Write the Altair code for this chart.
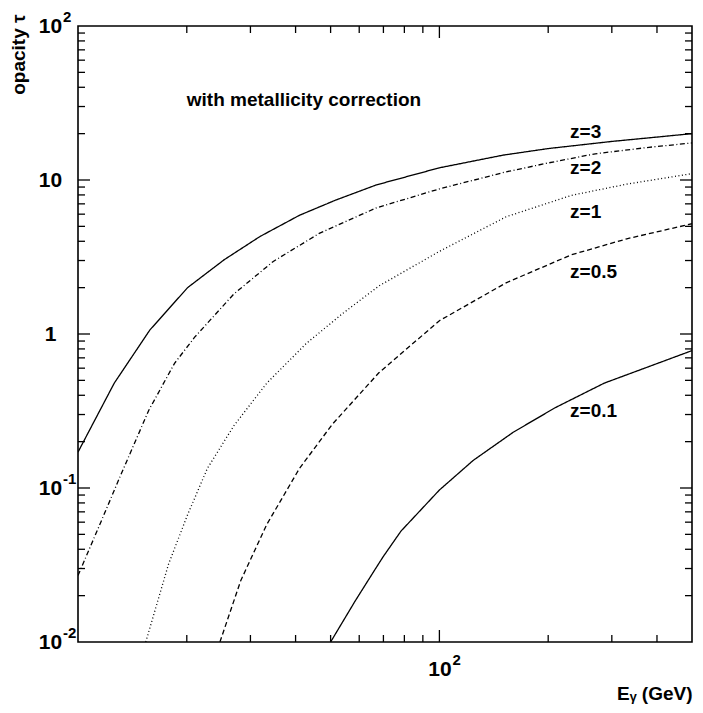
import altair as alt
import pandas as pd

# ---------------- data ----------------
series_names = ["z=3", "z=2", "z=1", "z=0.5", "z=0.1"]

E_z3 = [10, 12.6, 15.8, 20.1, 25.4, 31.9, 41, 51.6, 67, 100, 150, 200, 300, 400, 500]
tau_z3 = [0.171, 0.48, 1.06, 2.0, 3.04, 4.3, 5.9, 7.4, 9.3, 12.0, 14.5, 16.0, 17.8, 19.0, 20.0]

E_z2 = [10, 11.7, 13.0, 15.7, 18.5, 21, 27, 34.7, 46.5, 67, 100, 153, 200, 270, 380, 500]
tau_z2 = [0.027, 0.064, 0.115, 0.32, 0.645, 0.95, 1.82, 2.96, 4.5, 6.6, 8.75, 11.3, 12.9, 14.8, 16.3, 17.4]

E_z1 = [15.4, 17.8, 20.1, 22.8, 27, 33.3, 42.8, 53.8, 68, 100, 153, 232, 330, 500]
tau_z1 = [0.01, 0.032, 0.067, 0.134, 0.254, 0.48, 0.867, 1.35, 2.05, 3.44, 5.77, 7.95, 9.4, 11.0]

E_z05 = [24.7, 28.2, 33.3, 41, 50.6, 68, 100, 153, 232, 330, 500]
tau_z05 = [0.01, 0.025, 0.058, 0.134, 0.26, 0.56, 1.22, 2.15, 3.27, 4.15, 5.2]

E_z01 = [50, 58.5, 66, 70, 78.3, 100, 124, 160, 209, 286, 500]
tau_z01 = [0.01, 0.0185, 0.029, 0.036, 0.0525, 0.097, 0.151, 0.23, 0.332, 0.48, 0.78]

# annotation texts and their anchors in data space
label_text = ["with metallicity correction", "z=3", "z=2", "z=1", "z=0.5", "z=0.1"]
label_E = [20, 230, 230, 230, 230, 230]
label_tau = [33, 20.5, 12.0, 6.2, 2.52, 0.315]

# axis tick values and label exponents
x_major = [100]
x_minor = [20, 30, 40, 50, 60, 70, 80, 90, 200, 300, 400]
y_major = [0.1, 1, 10]
y_minor = [m * d for d in [0.01, 0.1, 1, 10] for m in [2, 3, 4, 5, 6, 7, 8, 9]]
y_label_values = [0.01, 0.1, 1, 10, 100]
y_exp_values = [100, 0.1, 0.01]
y_exp_text = ["2", "-1", "-2"]
x_exp_values = [100]
x_exp_text = ["2"]

# ---------------- build tables ----------------
rows = []
for name, E, T in zip(series_names,
                      [E_z3, E_z2, E_z1, E_z05, E_z01],
                      [tau_z3, tau_z2, tau_z1, tau_z05, tau_z01]):
    for i, (e, t) in enumerate(zip(E, T)):
        rows.append({"z": name, "E": e, "tau": t, "order": i})
df = pd.DataFrame(rows)
labels_df = pd.DataFrame({"text": label_text, "E": label_E, "tau": label_tau})
yexp_df = pd.DataFrame({"v": y_exp_values, "t": y_exp_text})
xexp_df = pd.DataFrame({"v": x_exp_values, "t": x_exp_text})

W, H = 614, 616
FONT = "Liberation Sans"
MAJ, MIN = 12, 7

xscale = alt.Scale(type="log", domain=[10, 500], nice=False)
yscale = alt.Scale(type="log", domain=[0.01, 100], nice=False)

x_axis = alt.Axis(values=x_major, labelExpr="'10'", ticks=False, tickSize=0,
                  domain=False, grid=False, labelFont=FONT, labelFontSize=21,
                  labelFontWeight="bold", labelPadding=16, labelColor="black",
                  title="Eᵧ (GeV)", titleFont=FONT, titleFontSize=19,
                  titleFontWeight="bold", titleColor="black", titleX=W, titleY=57,
                  titleAlign="right", titleBaseline="alphabetic")
y_axis = alt.Axis(values=y_label_values,
                  labelExpr="datum.value == 1 ? '1' : '10'", ticks=False,
                  tickSize=0, domain=False, grid=False, labelFont=FONT,
                  labelFontSize=21, labelFontWeight="bold", labelAlign="center",
                  labelBaseline="middle", labelPadding=28, labelColor="black",
                  title="opacity τ", titleFont=FONT, titleFontSize=19,
                  titleFontWeight="bold", titleColor="black", titleAngle=270,
                  titleAlign="right", titleBaseline="middle", titleX=-60, titleY=-12)

lines = alt.Chart(df).mark_line(color="black", strokeWidth=1.3, clip=True).encode(
    x=alt.X("E:Q", scale=xscale, axis=x_axis),
    y=alt.Y("tau:Q", scale=yscale, axis=y_axis),
    strokeDash=alt.StrokeDash(
        "z:N",
        scale=alt.Scale(domain=series_names,
                        range=[[1, 0], [5, 2.5, 1, 2.5], [1, 2.5], [5, 3], [1, 0]]),
        legend=None),
    detail="z:N",
    order="order:Q",
)

texts = alt.Chart(labels_df).mark_text(
    align="left", baseline="middle", font=FONT, fontSize=19, fontWeight="bold",
    color="black"
).encode(
    x=alt.X("E:Q", scale=xscale, axis=x_axis),
    y=alt.Y("tau:Q", scale=yscale, axis=y_axis),
    text="text:N",
)

# exponents of the axis labels (10^n)
yexp = alt.Chart(yexp_df).mark_text(
    align="left", baseline="middle", font=FONT, fontSize=15, fontWeight="bold",
    color="black", dy=-9
).encode(
    y=alt.Y("v:Q", scale=yscale, axis=y_axis),
    x=alt.value(-15),
    text="t:N",
)
xexp = alt.Chart(xexp_df).mark_text(
    align="left", baseline="middle", font=FONT, fontSize=15, fontWeight="bold",
    color="black", dx=13
).encode(
    x=alt.X("v:Q", scale=xscale, axis=x_axis),
    y=alt.value(H + 18),
    text="t:N",
)


def yticks(values, length):
    d = pd.DataFrame({"v": values})
    left = alt.Chart(d).mark_rule(color="black", strokeWidth=1.3).encode(
        y=alt.Y("v:Q", scale=yscale, axis=y_axis),
        x=alt.value(0), x2=alt.value(length))
    right = alt.Chart(d).mark_rule(color="black", strokeWidth=1.3).encode(
        y=alt.Y("v:Q", scale=yscale, axis=y_axis),
        x=alt.value(W), x2=alt.value(W - length))
    return [left, right]


def xticks(values, length):
    d = pd.DataFrame({"v": values})
    bottom = alt.Chart(d).mark_rule(color="black", strokeWidth=1.3).encode(
        x=alt.X("v:Q", scale=xscale, axis=x_axis),
        y=alt.value(H), y2=alt.value(H - length))
    top = alt.Chart(d).mark_rule(color="black", strokeWidth=1.3).encode(
        x=alt.X("v:Q", scale=xscale, axis=x_axis),
        y=alt.value(0), y2=alt.value(length))
    return [bottom, top]


tick_layers = (yticks(y_major, MAJ) + yticks(y_minor, MIN)
               + xticks(x_major, MAJ) + xticks(x_minor, MIN))

chart = alt.layer(lines, texts, yexp, xexp, *tick_layers).properties(
    width=W, height=H,
    padding={"left": 1, "top": 2, "right": 2, "bottom": 2},
    background="white",
).configure_view(stroke="black", strokeWidth=1.6)

chart.save("out.html", embed_options={"renderer": "svg", "actions": False})
